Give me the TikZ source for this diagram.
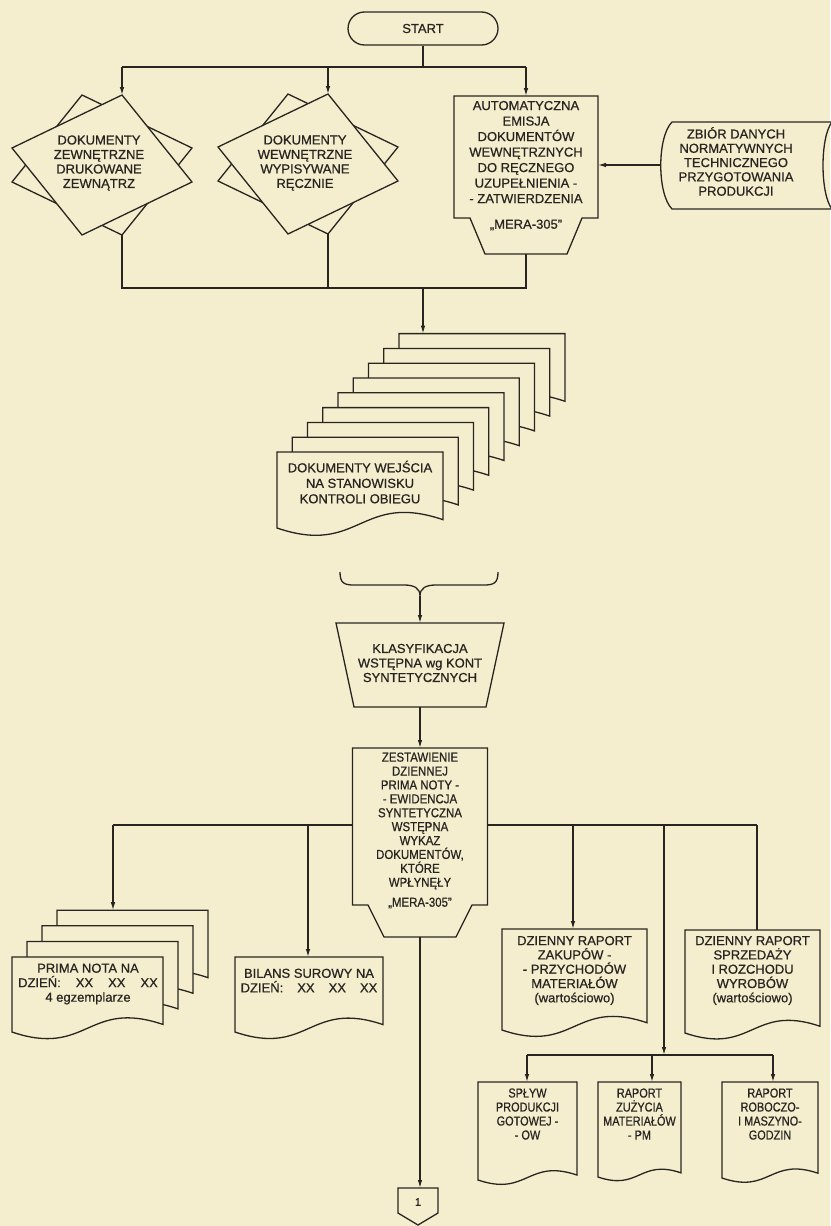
\documentclass[tikz,border=0pt]{standalone}
\usepackage{fontspec}
\setmainfont{Liberation Sans}[FakeBold=0.7]
\newfontfamily\narrowfont[FakeStretch=0.88,FakeBold=0.7]{Liberation Sans}
\newfontfamily\smallnarrow[FakeStretch=0.84,FakeBold=0.7]{Liberation Sans}
\usetikzlibrary{arrows.meta}
\definecolor{paper}{RGB}{244,238,206}
\definecolor{ink}{RGB}{40,37,33}
\newcommand\docpath[4]{%
 ({#1},{#2}) -- ({#3},{#2}) -- ({#3},{(#4)-0.05*((#3)-(#1))}) .. controls ({((#1)+(#3))/2},{(#4)-0.22*((#3)-(#1))}) and ({((#1)+(#3))/2},{(#4)+0.17*((#3)-(#1))}) .. ({#1},{#4}) -- cycle}
\tikzset{
 ln/.style={draw=ink, line width=1.3pt},
 arr/.style={ln, -{Latex[length=8pt,width=4.6pt]}},
 shp/.style={draw=ink, fill=paper, line width=1.3pt, line join=miter},
 txt/.style={align=center, inner sep=0pt, text=ink, font=\fontsize{13}{14.5}\selectfont},
}
\begin{document}
\begin{tikzpicture}[x=1pt,y=-1pt]
\fill[paper] (0,0) rectangle (830,1226);
\useasboundingbox (0,0) rectangle (830,1226);

% ---------- START ----------
\node[shp, rounded corners=16.5pt, minimum width=150pt, minimum height=33pt, inner sep=0pt, text=ink, font=\fontsize{13}{14}\selectfont] (start) at (423,28.5) {START};
\coordinate (split1) at (423,67);
\coordinate (l1) at (122,67);
\coordinate (m1) at (328,67);
\coordinate (r1) at (526,67);

% ---------- diamonds ----------
\begin{scope}[shift={(102,165)}]
 \filldraw[shp] (-20,-70) -- (90,-17) -- (20,70) -- (-90,17) -- cycle;
 \filldraw[shp] (20,-70) -- (90,17) -- (-20,70) -- (-90,-17) -- cycle;
 \coordinate (dA-in) at (20,-70);
 \coordinate (dA-out) at (20,70);
\end{scope}
\node[txt] (dAtxt) at (99,163) {DOKUMENTY\\ZEWNĘTRZNE\\DRUKOWANE\\ZEWNĄTRZ};

\begin{scope}[shift={(308,164)}]
 \filldraw[shp] (-20,-70) -- (90,-17) -- (20,70) -- (-90,17) -- cycle;
 \filldraw[shp] (20,-70) -- (90,17) -- (-20,70) -- (-90,-17) -- cycle;
 \coordinate (dB-in) at (20,-70);
 \coordinate (dB-out) at (20,70);
\end{scope}
\node[txt] (dBtxt) at (305,163) {DOKUMENTY\\WEWNĘTRZNE\\WYPISYWANE\\RĘCZNIE};

% ---------- automatic emission box ----------
\filldraw[shp] (454,96) -- (598,96) -- (598,218) -- (582,218) -- (567,254) -- (485,254) -- (470,218) -- (454,218) -- cycle;
\coordinate (auto-in) at (526,96);
\coordinate (auto-out) at (526,254);
\coordinate (auto-east) at (598,165);
\node[txt, font=\fontsize{13}{15.5}\selectfont] (autotxt) at (526,152) {AUTOMATYCZNA\\EMISJA\\DOKUMENTÓW\\WEWNĘTRZNYCH\\DO RĘCZNEGO\\UZUPEŁNIENIA -\\- ZATWIERDZENIA};
\node[txt] (automera) at (526,225) {„MERA-305”};

% ---------- stored data ----------
\filldraw[shp] (672,122) -- (832,122) .. controls (820,137) and (820,194) .. (832,209) -- (672,209) .. controls (657,194) and (657,137) .. (672,122) -- cycle;
\coordinate (zb-west) at (661,165);
\node[txt, font=\fontsize{13}{14.3}\selectfont] (zbtxt) at (736,161.5) {ZBIÓR DANYCH\\NORMATYWNYCH\\TECHNICZNEGO\\PRZYGOTOWANIA\\PRODUKCJI};

% ---------- connectors top ----------
\draw[ln] (start.south) -- (split1);
\draw[ln] (l1) -- (r1);
\draw[arr] (l1) -- (dA-in);
\draw[arr] (m1) -- (dB-in);
\draw[arr] (r1) -- (auto-in);
\draw[arr] (zb-west) -- (auto-east);
\coordinate (l2) at (122,288);
\coordinate (m2) at (328,288);
\coordinate (r2) at (526,288);
\coordinate (join2) at (423,288);
\draw[ln] (dA-out) -- (l2) -- (r2) -- (auto-out);
\draw[ln] (dB-out) -- (m2);

% ---------- document stack ----------
\foreach \k in {8,7,...,0}{
 \filldraw[shp] \docpath{277+15.25*\k}{452-14.8*\k}{443+15.25*\k}{528-14.8*\k};
}
\coordinate (stack-in) at (423,333.6);
\node[txt, font=\fontsize{13}{15.5}\selectfont] (stacktxt) at (360,482) {DOKUMENTY WEJŚCIA\\NA STANOWISKU\\KONTROLI OBIEGU};
\draw[arr] (join2) -- (stack-in);

% ---------- brace ----------
\coordinate (brL) at (340,572);
\coordinate (brR) at (498,572);
\coordinate (brT) at (420,596);
\draw[ln] (brL) .. controls (340,583) and (344,585) .. (354,585) -- (404,585) .. controls (414,585) and (420,588) .. (brT)
 .. controls (420,588) and (426,585) .. (436,585) -- (484,585) .. controls (494,585) and (498,583) .. (brR);

% ---------- trapezoid ----------
\filldraw[shp] (336,623) -- (504,623) -- (486,707) -- (354,707) -- cycle;
\coordinate (trap-in) at (420,623);
\coordinate (trap-out) at (420,707);
\node[txt] (traptxt) at (420,663) {KLASYFIKACJA\\WSTĘPNA wg KONT\\SYNTETYCZNYCH};
\draw[arr] (brT) -- (trap-in);

% ---------- main process box ----------
\filldraw[shp] (352.5,748) -- (487.5,748) -- (487.5,905) -- (472,905) -- (456,937) -- (384,937) -- (368,905) -- (352.5,905) -- cycle;
\coordinate (main-in) at (420,748);
\coordinate (main-out) at (420,937);
\coordinate (main-w) at (352.5,825);
\coordinate (main-e) at (487.5,825);
\node[txt, font=\narrowfont\fontsize{13}{13.9}\selectfont] (maintxt) at (420,821) {ZESTAWIENIE\\DZIENNEJ\\PRIMA NOTY -\\- EWIDENCJA\\SYNTETYCZNA\\WSTĘPNA\\WYKAZ\\DOKUMENTÓW,\\KTÓRE\\WPŁYNĘŁY};
\node[txt, font=\narrowfont\fontsize{13}{14}\selectfont] (mainmera) at (420,903) {„MERA-305”};
\draw[arr] (trap-out) -- (main-in);

% ---------- branch line ----------
\coordinate (b1) at (113,825);
\coordinate (b2) at (308,825);
\coordinate (b3) at (573,825);
\coordinate (b4) at (664,825);
\coordinate (b5) at (757,825);
\draw[ln] (main-w) -- (b1);
\draw[ln] (main-e) -- (b5);

% ---------- prima nota stack ----------
\foreach \k in {3,2,1,0}{
 \filldraw[shp] \docpath{12+15*\k}{957-15.6*\k}{163+15*\k}{1032-15.6*\k};
}
\coordinate (pn-in) at (113,910.2);
\node[txt] (pntxt) at (88,984) {PRIMA NOTA NA\\DZIEŃ:\hspace{15pt}XX\hspace{15pt}XX\hspace{15pt}XX\\4 egzemplarze};
\draw[arr] (b1) -- (pn-in);

% ---------- bilans ----------
\filldraw[shp] \docpath{235}{957}{383}{1032};
\coordinate (bil-in) at (308,957);
\node[txt] (biltxt) at (309,980.5) {BILANS SUROWY NA\\DZIEŃ:\hspace{14pt}XX\hspace{14pt}XX\hspace{14pt}XX};
\draw[arr] (b2) -- (bil-in);

% ---------- zakupy ----------
\filldraw[shp] \docpath{502}{929}{647}{1030};
\coordinate (zak-in) at (573,929);
\node[txt, font=\fontsize{13}{14.3}\selectfont] (zaktxt) at (574.5,970.5) {DZIENNY RAPORT\\ZAKUPÓW -\\- PRZYCHODÓW\\MATERIAŁÓW\\(wartościowo)};
\draw[arr] (b3) -- (zak-in);

% ---------- sprzedaz ----------
\filldraw[shp] \docpath{685}{930}{820}{1033};
\coordinate (spr-in) at (757,930);
\node[txt, font=\fontsize{13}{14.3}\selectfont] (sprtxt) at (752.5,970.5) {DZIENNY RAPORT\\SPRZEDAŻY\\I ROZCHODU\\WYROBÓW\\(wartościowo)};
\draw[ln] (b5) -- (spr-in);

% ---------- lower branch ----------
\coordinate (c0) at (664,1055);
\coordinate (c1) at (527,1055);
\coordinate (c2) at (652,1055);
\coordinate (c3) at (773,1055);
\draw[arr] (b4) -- (c0);
\draw[ln] (c1) -- (c3);

\filldraw[shp] \docpath{478}{1082}{577}{1180};
\filldraw[shp] \docpath{598}{1082}{681}{1177};
\filldraw[shp] \docpath{722}{1082}{818}{1178};
\coordinate (d1-in) at (527,1082);
\coordinate (d2-in) at (652,1082);
\coordinate (d3-in) at (773,1082);
\draw[arr] (c1) -- (d1-in);
\draw[arr] (c2) -- (d2-in);
\draw[arr] (c3) -- (d3-in);
\node[txt, font=\smallnarrow\fontsize{13}{14}\selectfont] (d1txt) at (527.5,1114) {SPŁYW\\PRODUKCJI\\GOTOWEJ -\\- OW};
\node[txt, font=\smallnarrow\fontsize{13}{14}\selectfont] (d2txt) at (639.5,1114) {RAPORT\\ZUŻYCIA\\MATERIAŁÓW\\- PM};
\node[txt, font=\smallnarrow\fontsize{13}{14}\selectfont] (d3txt) at (770,1114) {RAPORT\\ROBOCZO-\\I MASZYNO-\\GODZIN};

% ---------- off-page connector ----------
\filldraw[shp] (398,1188) -- (438,1188) -- (438,1213) -- (418,1225) -- (398,1213) -- cycle;
\coordinate (con-in) at (418,1188);
\node[txt, font=\fontsize{11}{12}\selectfont] (contxt) at (418,1202) {1};
\draw[arr] (main-out) -- (420,1188);
\end{tikzpicture}
\end{document}
